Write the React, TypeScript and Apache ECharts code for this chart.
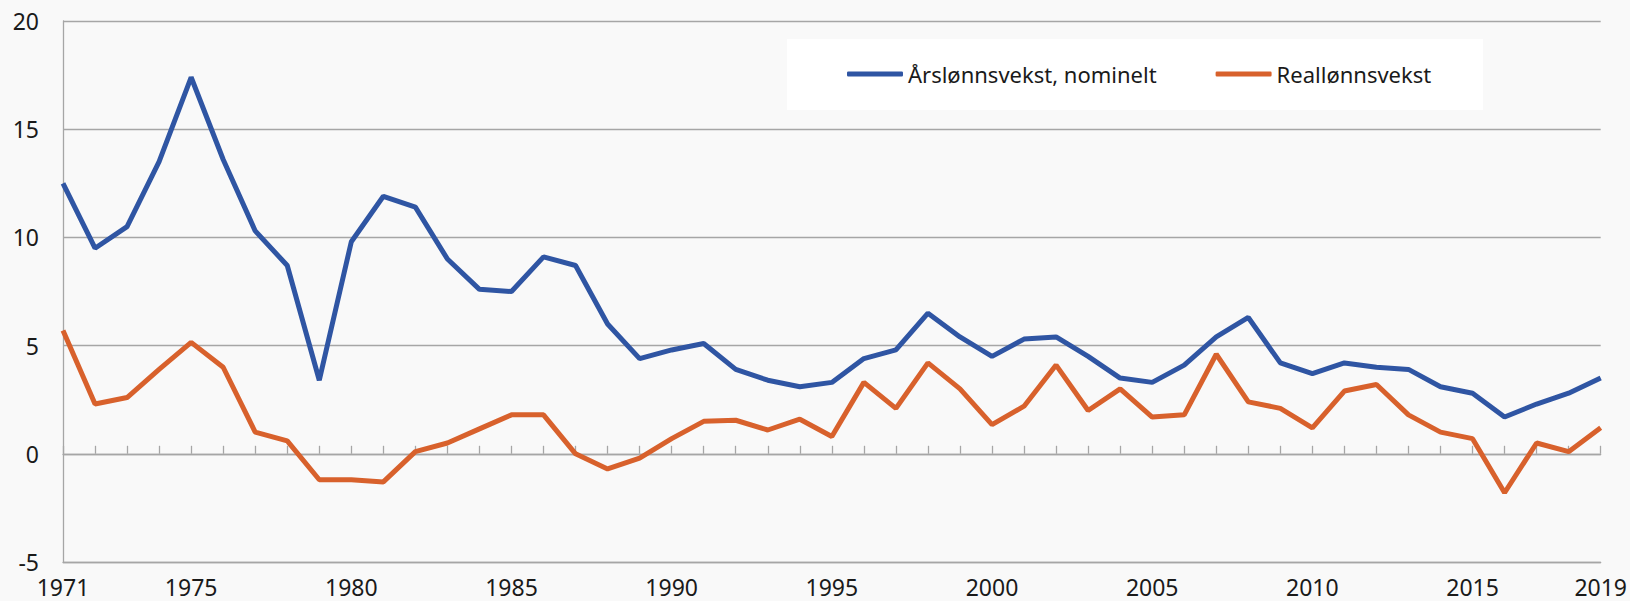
import React, { useEffect, useRef } from "react";
import * as echarts from "echarts";

const years: string[] = [];
for (let y = 1971; y <= 2019; y++) years.push(String(y));

const labelYears = ["1971", "1975", "1980", "1985", "1990", "1995", "2000", "2005", "2010", "2015", "2019"];

const nominal = [
  12.5, 9.5, 10.5, 13.5, 17.4, 13.6, 10.3, 8.7, 3.4, 9.8,
  11.9, 11.4, 9.0, 7.6, 7.5, 9.1, 8.7, 6.0, 4.4, 4.8,
  5.1, 3.9, 3.4, 3.1, 3.3, 4.4, 4.8, 6.5, 5.4, 4.5,
  5.3, 5.4, 4.5, 3.5, 3.3, 4.1, 5.4, 6.3, 4.2, 3.7,
  4.2, 4.0, 3.9, 3.1, 2.8, 1.7, 2.3, 2.8, 3.5,
];

const real = [
  5.7, 2.3, 2.6, 3.9, 5.15, 4.0, 1.0, 0.6, -1.2, -1.2,
  -1.3, 0.1, 0.5, 1.15, 1.8, 1.8, 0.0, -0.7, -0.2, 0.7,
  1.5, 1.55, 1.1, 1.6, 0.8, 3.3, 2.1, 4.2, 3.0, 1.35,
  2.2, 4.1, 2.0, 3.0, 1.7, 1.8, 4.6, 2.4, 2.1, 1.2,
  2.9, 3.2, 1.8, 1.0, 0.7, -1.8, 0.5, 0.1, 1.2,
];

const seriesNames = ["Årslønnsvekst, nominelt", "Reallønnsvekst"];
const colors = ["#2f55a3", "#d8612c"];

const FONT = "'Noto Sans', 'Open Sans', sans-serif";
const GRID_COLOR = "#a6a6a6";

export default function App() {
  const ref = useRef<HTMLDivElement>(null);
  useEffect(() => {
    if (!ref.current) return;
    const chart = echarts.init(ref.current, null, { renderer: "svg" });
    chart.setOption({
      animation: false,
      backgroundColor: "#f9f9f9",
      textStyle: { fontFamily: FONT },
      grid: { left: 63, right: 28, top: 21, bottom: 39, containLabel: false },
      graphic: [
        {
          type: "rect",
          left: 787,
          top: 39,
          shape: { width: 696, height: 71 },
          style: { fill: "#ffffff" },
          z: 1,
        },
      ],
      legend: {
        left: 847,
        top: 61,
        padding: 0,
        itemWidth: 56,
        itemHeight: 5,
        itemGap: 59,
        icon: "roundRect",
        textStyle: { fontFamily: FONT, fontSize: 22, color: "#1a1a1a", lineHeight: 26 },
        data: seriesNames,
        z: 5,
      },
      xAxis: [
        {
          type: "category",
          data: years,
          boundaryGap: false,
          axisLine: { onZero: true, lineStyle: { color: GRID_COLOR, width: 1.3 } },
          axisTick: { show: true, inside: true, length: 8, interval: 0, lineStyle: { color: GRID_COLOR, width: 1.3 } },
          axisLabel: { show: false },
          splitLine: { show: false },
        },
        {
          type: "category",
          data: years,
          boundaryGap: false,
          position: "bottom",
          axisLine: { show: true, onZero: false, lineStyle: { color: GRID_COLOR, width: 1.3 } },
          axisTick: { show: false },
          axisLabel: {
            show: true,
            interval: (_i: number, v: string) => labelYears.indexOf(v) >= 0,
            fontFamily: FONT,
            fontSize: 23,
            color: "#1a1a1a",
            margin: 13,
          },
          splitLine: { show: false },
        },
      ],
      yAxis: {
        type: "value",
        min: -5,
        max: 20,
        interval: 5,
        axisLine: { show: true, lineStyle: { color: GRID_COLOR, width: 1.3 } },
        axisTick: { show: false },
        axisLabel: { fontFamily: FONT, fontSize: 23, color: "#1a1a1a", margin: 24 },
        splitLine: { show: true, lineStyle: { color: GRID_COLOR, width: 1.3 } },
      },
      series: [
        {
          name: seriesNames[0],
          type: "line",
          xAxisIndex: 0,
          data: nominal,
          showSymbol: false,
          symbol: "none",
          lineStyle: { color: colors[0], width: 5 },
          itemStyle: { color: colors[0] },
          z: 3,
        },
        {
          name: seriesNames[1],
          type: "line",
          xAxisIndex: 0,
          data: real,
          showSymbol: false,
          symbol: "none",
          lineStyle: { color: colors[1], width: 5 },
          itemStyle: { color: colors[1] },
          z: 3,
        },
      ],
    });
    return () => chart.dispose();
  }, []);
  return (
    <div
      ref={ref}
      style={{ position: "fixed", left: 0, top: 0, width: 1630, height: 601 }}
    />
  );
}
